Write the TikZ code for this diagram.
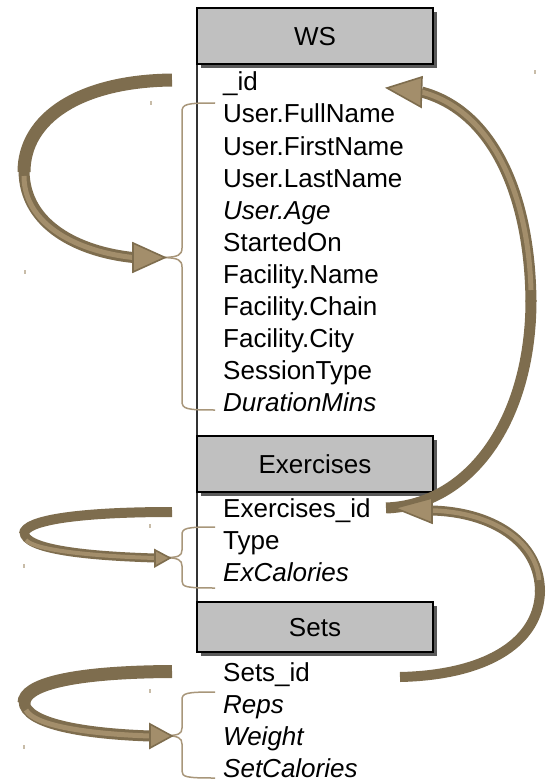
\documentclass[tikz,border=0pt]{standalone}
\usepackage{fontspec}
\setmainfont{Liberation Sans}
\usetikzlibrary{shadows}
\definecolor{arrdark}{HTML}{7E6D4E}
\definecolor{arrlight}{HTML}{A38E6B}
\definecolor{bracec}{HTML}{A8967A}
\definecolor{hdrfill}{HTML}{C0C0C0}
\definecolor{shadowc}{HTML}{5A5A5A}
\definecolor{speckc}{HTML}{C8BCA8}
\begin{document}
\begin{tikzpicture}[x=1pt,y=-1pt,
  hdr/.style={draw=black, line width=1.3pt, fill=hdrfill, minimum width=236pt, inner sep=0pt,
     font=\fontsize{26}{32}\selectfont, text depth=0pt,
     drop shadow={shadow xshift=4pt, shadow yshift=-4pt, fill=shadowc, opacity=1}},
  field/.style={anchor=base west, inner sep=0pt, font=\fontsize{26}{32}\selectfont},
  ifield/.style={field, font=\fontsize{26}{32}\selectfont\itshape},
  bodyd/.style={draw=arrdark, line cap=butt},
  bodyl/.style={draw=arrlight, line cap=butt},
  headp/.style={fill=arrlight, draw=arrdark, line width=1.6pt, line join=miter},
  bracep/.style={draw=bracec, line width=1.5pt},
  speck/.style={fill=speckc, draw=none}]
\useasboundingbox (0,0) rectangle (546,781);

% vertical spine
\coordinate (spinetop) at (197,64);
\coordinate (spinebot) at (197,602);
\draw[line width=1.4pt, black!80] (spinetop) -- (spinebot);

% header boxes
\node[hdr, minimum height=56pt] (ws) at (315,36) {WS};
\node[hdr, minimum height=56pt] (ex) at (315,464) {Exercises};
\node[hdr, minimum height=50pt] (sets) at (315,627) {Sets};

% fields
\node[field]  (f1)  at (223,91)  {\_id};
\node[field]  (f2)  at (223,123) {User.FullName};
\node[field]  (f3)  at (223,155) {User.FirstName};
\node[field]  (f4)  at (223,187) {User.LastName};
\node[ifield] (f5)  at (223,219) {User.Age};
\node[field]  (f6)  at (223,251) {StartedOn};
\node[field]  (f7)  at (223,283) {Facility.Name};
\node[field]  (f8)  at (223,315) {Facility.Chain};
\node[field]  (f9)  at (223,347) {Facility.City};
\node[field]  (f10) at (223,379) {SessionType};
\node[ifield] (f11) at (223,411) {DurationMins};

\node[field]  (e1) at (223,517) {Exercises\_id};
\node[field]  (e2) at (223,549) {Type};
\node[ifield] (e3) at (223,581) {ExCalories};

\node[field]  (s1) at (223,681) {Sets\_id};
\node[ifield] (s2) at (223,713) {Reps};
\node[ifield] (s3) at (223,745) {Weight};
\node[ifield] (s4) at (223,777) {SetCalories};

% braces
\draw[bracep] (215,103) .. controls (186,103) and (182,104) .. (182,112) -- (182,248)
  .. controls (182,255) and (178,257) .. (164,257.5);
\draw[bracep] (164,257.5) .. controls (178,258) and (182,260) .. (182,267) -- (182,401)
  .. controls (182,409) and (186,410) .. (215,410);

\draw[bracep] (215,527) .. controls (186,527) and (182,528) .. (182,535) -- (182,550)
  .. controls (182,556) and (178,557.5) .. (166,557.5);
\draw[bracep] (166,557.5) .. controls (178,558) and (182,560) .. (182,566) -- (182,581)
  .. controls (182,587) and (186,588) .. (215,588);

\draw[bracep] (215,692) .. controls (186,692) and (182,693) .. (182,700) -- (182,728)
  .. controls (182,734) and (178,735.5) .. (166,735.5);
\draw[bracep] (166,735.5) .. controls (178,736) and (182,738) .. (182,744) -- (182,771)
  .. controls (182,777) and (186,778) .. (215,778);

% specks
\foreach \p in {(151,103),(25,272),(535,72),(150,526),(24,566),(150,691),(24,747)}
  \fill[speck] \p ++(-0.8,-2) rectangle ++(1.6,4);

% ---- loop arrow 1 (WS) ----
\coordinate (a1t) at (172,80);
\coordinate (a1m) at (24,172);
\coordinate (a1b) at (133,257.5);
\draw[bodyd, line width=13pt] (a1t) .. controls (80,81) and (24,118) .. (a1m);
\draw[bodyd, line width=11pt] (24,170) .. controls (24,226) and (80,252) .. (a1b);
\draw[bodyl, line width=5pt] (24,176) .. controls (24,226) and (80,252) .. (a1b);
\draw[headp] (133,243) -- (165,257.5) -- (133,272) -- cycle;

% ---- loop arrow 2 (Exercises) ----
\coordinate (a2t) at (172,512);
\coordinate (a2m) at (24,534);
\coordinate (a2b) at (155,558);
\draw[bodyd, line width=10pt] (a2t) .. controls (80,512) and (24,520) .. (a2m);
\draw[bodyd, line width=9pt] (24,532) .. controls (24,550) and (90,556) .. (a2b);
\draw[bodyl, line width=4pt] (26,540) .. controls (34,550) and (90,556) .. (a2b);
\draw[headp] (155,550) -- (170,558) -- (155,566.5) -- cycle;

% ---- loop arrow 3 (Sets) ----
\coordinate (a3t) at (172,671.5);
\coordinate (a3m) at (24,703);
\coordinate (a3b) at (150,736);
\draw[bodyd, line width=13pt] (a3t) .. controls (70,672) and (24,685) .. (a3m);
\draw[bodyd, line width=11pt] (24,701) .. controls (24,725) and (90,734) .. (a3b);
\draw[bodyl, line width=5pt] (26,710) .. controls (34,726) and (90,734) .. (a3b);
\draw[headp] (150,724) -- (172,736) -- (150,748) -- cycle;

% ---- right arrow: Exercises_id -> _id ----
\coordinate (r1t) at (386,508);
\coordinate (r1m) at (531,300);
\coordinate (r1b) at (421.5,92);
\draw[bodyd, line width=11pt] (r1t) .. controls (470,505) and (531,420) .. (r1m);
\draw[bodyd, line width=11pt] (531,302) .. controls (530,190) and (490,110) .. (r1b);
\draw[bodyl, line width=5pt] (531,290) .. controls (528,190) and (490,110) .. (r1b);
\draw[headp] (422,77) -- (387,88) -- (421,107) -- cycle;

% ---- right arrow: Sets_id -> Exercises_id ----
\coordinate (r2t) at (400,677);
\coordinate (r2m) at (540,590);
\coordinate (r2b) at (432,510.5);
\draw[bodyd, line width=10pt] (r2t) .. controls (490,675) and (540,640) .. (r2m);
\draw[bodyd, line width=10pt] (540,592) .. controls (540,540) and (490,512) .. (r2b);
\draw[bodyl, line width=4.5pt] (539,580) .. controls (536,540) and (490,512) .. (r2b);
\draw[headp] (432,498) -- (395,508) -- (432,523) -- cycle;
\end{tikzpicture}
\end{document}
